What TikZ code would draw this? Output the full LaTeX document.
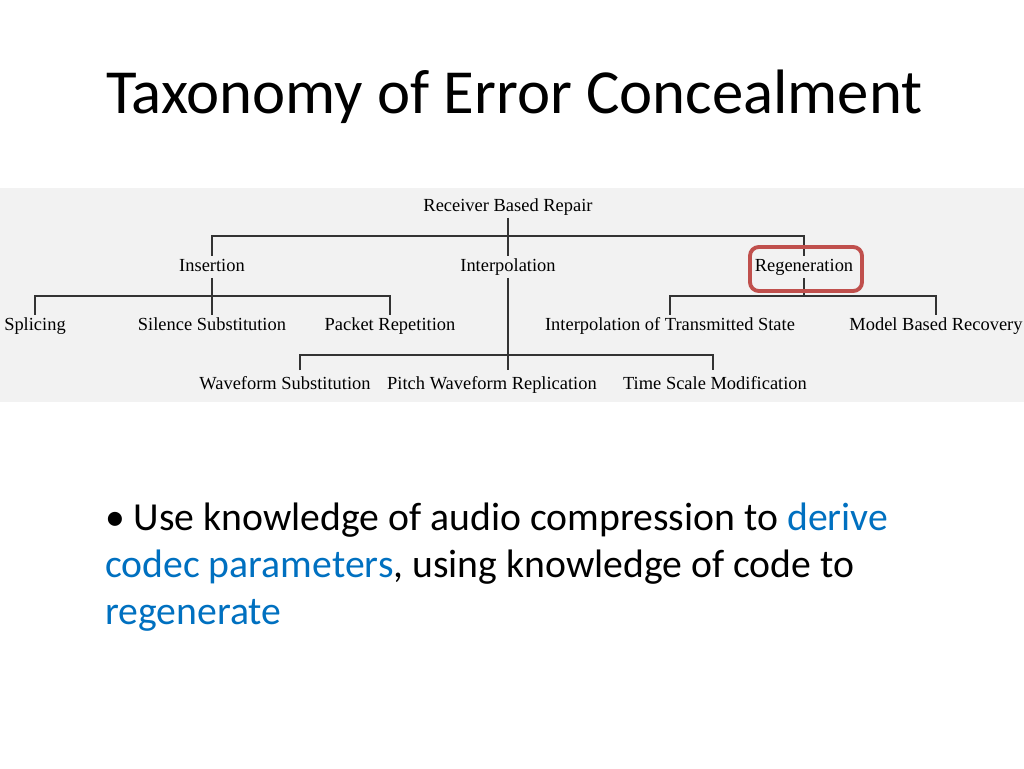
\documentclass[tikz,border=0pt]{standalone}
\usepackage{fontspec}
\setmainfont{Carlito}
\newfontfamily\treefont{Liberation Serif}
\usepackage{xcolor}
\definecolor{linkblue}{HTML}{0070C0}
\definecolor{markred}{HTML}{C0504D}
\definecolor{bandgray}{HTML}{F2F2F2}

\begin{document}
\begin{tikzpicture}[x=0.02cm,y=-0.02cm,
    leaf/.style={font=\treefont\fontsize{10.5}{12}\selectfont, inner sep=1pt,
      text height=7.5pt, text depth=2.5pt},
    wire/.style={draw=black!80, line width=0.6pt}]
    \useasboundingbox (0,0) rectangle (1024,768);
    \node[anchor=west, font=\fontsize{35.7}{42}\selectfont] (title) at (100,97) {Taxonomy of Error Concealment};
    \fill[bandgray] (0,188) rectangle (1024,402);

    % tree labels
    \node[leaf] (root) at (508,207) {Receiver Based Repair};
    \node[leaf] (ins) at (212,267) {Insertion};
    \node[leaf] (interp) at (508,267) {Interpolation};
    \node[leaf] (regen) at (804,267) {Regeneration};
    \node[leaf] (splice) at (35,326) {Splicing};
    \node[leaf] (silence) at (212,326) {Silence Substitution};
    \node[leaf] (packet) at (390,326) {Packet Repetition};
    \node[leaf] (state) at (670,326) {Interpolation of Transmitted State};
    \node[leaf] (model) at (936,326) {Model Based Recovery};
    \node[leaf] (wave) at (285,385) {Waveform Substitution};
    \node[leaf] (pitch) at (492,385) {Pitch Waveform Replication};
    \node[leaf] (scale) at (715,385) {Time Scale Modification};

    % connectors
    \draw[wire] (root.south) -- (508,236) -| (ins.north);
    \draw[wire] (508,236) -- (interp.north);
    \draw[wire] (508,236) -| (regen.north);
    \draw[wire] (ins.south) -- (212,296) -| (splice.north);
    \draw[wire] (212,296) -| (packet.north);
    \draw[wire] (212,296) -- (silence.north);
    \draw[wire] (regen.south) -- (804,296) -| (state.north);
    \draw[wire] (804,296) -| (model.north);
    \draw[wire] (interp.south) -- (508,370);
    \draw[wire] (300,370) |- (713,355) -- (713,370);

    \draw[markred, line width=2.2pt, rounded corners=5pt] (750,247) rectangle (862,291);

    \node[anchor=north west, align=left, font=\fontsize{22.6}{26.7}\selectfont] (bullet) at (99,497)
      {\textbullet\ Use knowledge of audio compression to \textcolor{linkblue}{derive}\\
       \textcolor{linkblue}{codec parameters}, using knowledge of code to\\
       \textcolor{linkblue}{regenerate}};
\end{tikzpicture}
\end{document}
